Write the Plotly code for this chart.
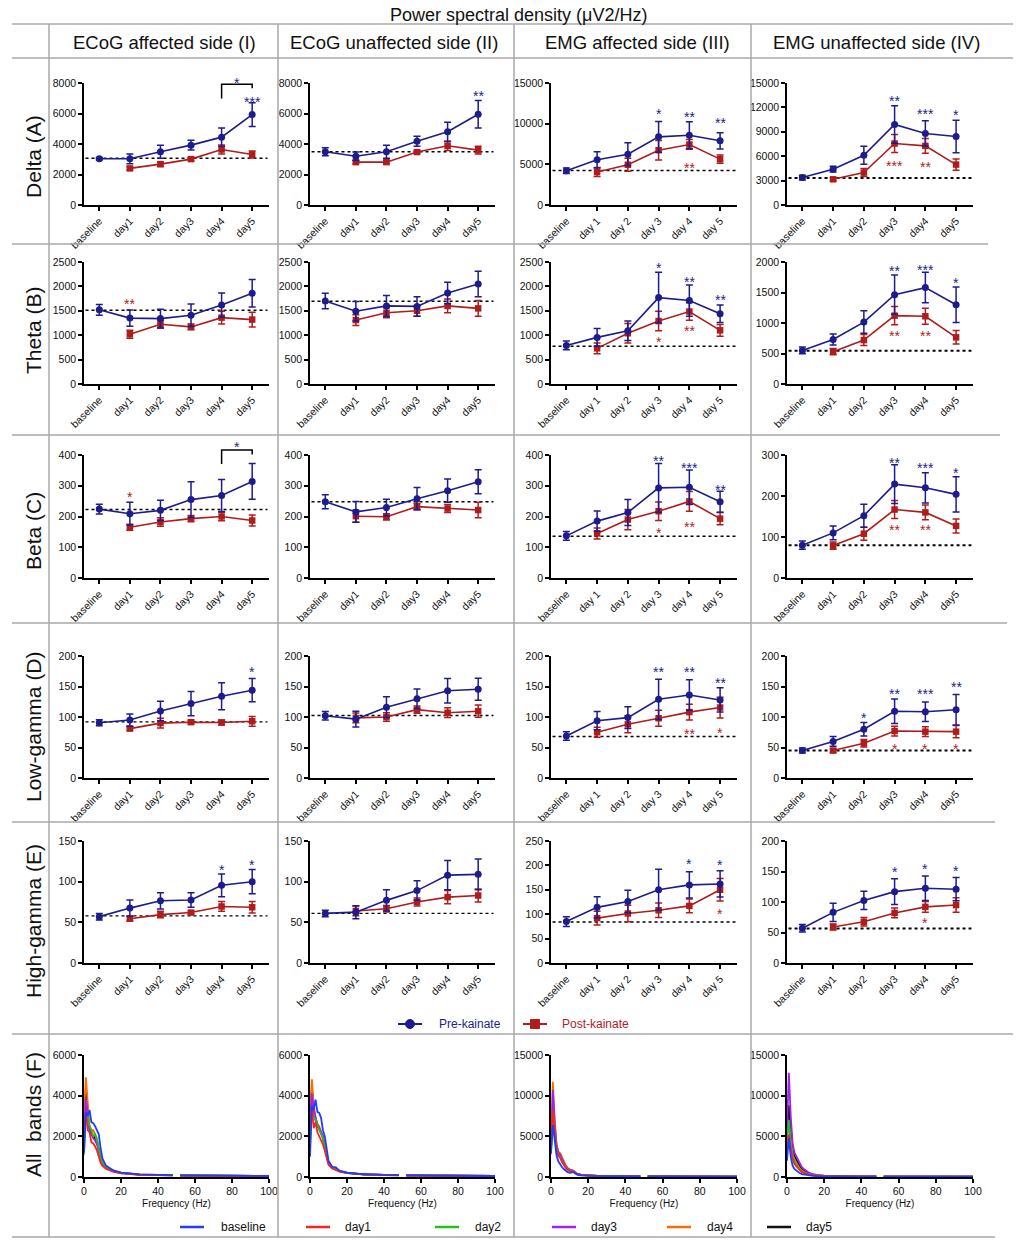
import plotly.graph_objects as go

# the page puts the figure 8 px in from the top-left corner of the window
OX, OY = 8, 8
W, H = 1021 - OX, 1241 - OY

TITLE = "Power spectral density (μV2/Hz)"
REGIONS = ["ECoG affected side (I)", "ECoG unaffected side (II)",
           "EMG affected side (III)", "EMG unaffected side (IV)"]
BANDS = ["Delta (A)", "Theta (B)", "Beta (C)", "Low-gamma (D)",
         "High-gamma (E)", "All\u00a0\u00a0bands (F)"]
DAYS = ["baseline", "day1", "day2", "day3", "day4", "day5"]
DAYS_SPACED = ["baseline", "day 1", "day 2", "day 3", "day 4", "day 5"]

# ---- band power, one list per region (I, II, III, IV) ----
# pre-kainate: baseline, day1..day5 ; post-kainate: day1..day5
delta_pre = [[3030, 3030, 3490, 3925, 4450, 5930],
             [3490, 3200, 3490, 4185, 4800, 5950],
             [4210, 5560, 6250, 8380, 8580, 7890],
             [3370, 4400, 6120, 9900, 8800, 8420]]
delta_pre_err = [[80, 320, 430, 320, 600, 780],
                 [260, 280, 430, 330, 630, 900],
                 [350, 1000, 1400, 1900, 1650, 1000],
                 [300, 350, 1100, 2300, 1550, 2000]]
delta_post = [[2400, 2680, 3010, 3640, 3310],
              [2810, 2810, 3470, 3880, 3600],
              [4050, 4950, 6740, 7440, 5640],
              [3160, 3990, 7560, 7270, 4970]]
delta_post_err = [[100, 150, 100, 300, 230],
                  [100, 100, 100, 300, 250],
                  [550, 800, 1200, 600, 500],
                  [200, 500, 1100, 900, 700]]
delta_ref = [3070, 3490, 4250, 3330]

theta_pre = [[1520, 1350, 1340, 1410, 1620, 1860],
             [1700, 1490, 1600, 1590, 1865, 2050],
             [790, 955, 1090, 1770, 1710, 1440],
             [550, 730, 1015, 1465, 1580, 1300]]
theta_pre_err = [[110, 165, 190, 230, 245, 280],
                 [160, 200, 215, 200, 220, 260],
                 [90, 180, 200, 520, 320, 180],
                 [55, 90, 185, 320, 250, 290]]
theta_post = [[1020, 1225, 1170, 1360, 1320],
              [1310, 1460, 1500, 1600, 1550],
              [730, 1040, 1290, 1485, 1100],
              [530, 720, 1120, 1110, 765]]
theta_post_err = [[80, 80, 60, 130, 150],
                  [110, 100, 110, 140, 160],
                  [110, 200, 200, 180, 120],
                  [50, 90, 150, 130, 110]]
theta_ref = [1510, 1695, 775, 545]

beta_pre = [[224, 209, 220, 255, 268, 314],
            [248, 215, 229, 258, 284, 313],
            [137, 185, 213, 293, 295, 248],
            [80, 110, 152, 229, 220, 204]]
beta_pre_err = [[16, 37, 33, 58, 52, 58],
                [23, 34, 27, 36, 38, 39],
                [14, 33, 42, 79, 56, 34],
                [10, 17, 28, 47, 37, 43]]
beta_post = [[165, 182, 193, 200, 187],
             [201, 199, 232, 226, 221],
             [145, 190, 217, 249, 193],
             [79, 108, 167, 160, 127]]
beta_post_err = [[10, 14, 10, 14, 18],
                 [20, 10, 10, 13, 25],
                 [18, 33, 30, 32, 20],
                 [9, 16, 22, 18, 17]]
beta_ref = [223, 248, 136, 80]

lowg_pre = [[90.5, 95, 110, 122, 134, 144],
            [102, 96.5, 116, 130, 143, 145.5],
            [69, 94, 99, 129, 136, 128],
            [45, 60, 80, 109.5, 108.5, 112]]
lowg_pre_err = [[5, 10, 16, 20, 22, 19],
                [7, 13, 17, 16, 20, 18],
                [7, 15, 18, 33, 25, 20],
                [4, 8, 11, 20, 16, 25]]
lowg_post = [[81, 90, 91.5, 91, 93],
             [98.5, 100, 112, 107, 109.5],
             [75, 88, 98, 108, 115.5],
             [45, 57, 77, 76, 76]]
lowg_post_err = [[3, 8, 3, 4, 8],
                 [8, 7, 6, 8, 10],
                 [8, 14, 13, 13, 17],
                 [3, 6, 8, 8, 10]]
lowg_ref = [92, 102.5, 68, 45]

highg_pre = [[57, 67.5, 76.5, 77.5, 95.5, 100],
             [61, 62.5, 77, 89, 108, 109],
             [85, 114, 126, 150, 160, 162],
             [57, 83, 102.5, 117, 122.5, 121]]
highg_pre_err = [[4, 10, 10, 9, 14, 15],
                 [4, 8, 13, 12, 18, 19],
                 [10, 22, 23, 42, 27, 27],
                 [6, 15, 15, 21, 20, 19]]
highg_post = [[54.5, 59.5, 62, 69.5, 68.5],
              [64, 66.7, 75, 81, 83],
              [92, 101.5, 108, 117, 150],
              [59, 67.5, 82, 92, 95]]
highg_post_err = [[3, 4, 2, 6, 7],
                  [6, 4, 5, 8, 8],
                  [14, 17, 15, 14, 23],
                  [5, 7, 8, 9, 12]]
highg_ref = [58, 61, 84, 56.7]

PRE = [delta_pre, theta_pre, beta_pre, lowg_pre, highg_pre]
PRE_ERR = [delta_pre_err, theta_pre_err, beta_pre_err, lowg_pre_err, highg_pre_err]
POST = [delta_post, theta_post, beta_post, lowg_post, highg_post]
POST_ERR = [delta_post_err, theta_post_err, beta_post_err, lowg_post_err, highg_post_err]
REF = [delta_ref, theta_ref, beta_ref, lowg_ref, highg_ref]

# y axis top / tick step per row and column
Y_MAX = [[8000, 8000, 15000, 15000], [2500, 2500, 2500, 2000], [400, 400, 400, 300],
         [200, 200, 200, 200], [150, 150, 250, 200], [6000, 6000, 15000, 15000]]
Y_STEP = [[2000, 2000, 5000, 3000], [500, 500, 500, 500], [100, 100, 100, 100],
          [50, 50, 50, 50], [50, 50, 50, 50], [2000, 2000, 5000, 5000]]

# significance stars: (row, col, x position, y value, text, series)
stars = [
    (0, 0, 5, 7040, "***", "pre"), (0, 0, 4.5, 8240, "*", "pre"),
    (0, 1, 5, 7400, "**", "pre"),
    (0, 2, 3, 11730, "*", "pre"), (0, 2, 4, 11360, "**", "pre"), (0, 2, 5, 10540, "**", "pre"),
    (0, 2, 4, 5100, "**", "post"),
    (0, 3, 3, 13280, "**", "pre"), (0, 3, 4, 11720, "***", "pre"), (0, 3, 5, 11600, "*", "pre"),
    (0, 3, 3, 5260, "***", "post"), (0, 3, 4, 5220, "**", "post"),
    (1, 0, 1, 1715, "**", "post"),
    (1, 2, 3, 2465, "*", "pre"), (1, 2, 4, 2170, "**", "pre"), (1, 2, 5, 1805, "**", "pre"),
    (1, 2, 3, 945, "*", "post"), (1, 2, 4, 1160, "**", "post"),
    (1, 3, 3, 1920, "**", "pre"), (1, 3, 4, 1930, "***", "pre"), (1, 3, 5, 1720, "*", "pre"),
    (1, 3, 3, 845, "**", "post"), (1, 3, 4, 845, "**", "post"),
    (2, 0, 1, 275, "*", "post"), (2, 0, 4.5, 438, "*", "pre"),
    (2, 2, 3, 395, "**", "pre"), (2, 2, 4, 371, "***", "pre"), (2, 2, 5, 300, "**", "pre"),
    (2, 2, 3, 159, "*", "post"), (2, 2, 4, 180, "**", "post"),
    (2, 3, 3, 290, "**", "pre"), (2, 3, 4, 277, "***", "pre"), (2, 3, 5, 265, "*", "pre"),
    (2, 3, 3, 127, "**", "post"), (2, 3, 4, 127, "**", "post"),
    (3, 0, 5, 180, "*", "pre"),
    (3, 2, 3, 181, "**", "pre"), (3, 2, 4, 180, "**", "pre"), (3, 2, 5, 163, "**", "pre"),
    (3, 2, 4, 79, "**", "post"), (3, 2, 5, 81, "*", "post"),
    (3, 3, 2, 105, "*", "pre"), (3, 3, 3, 144, "**", "pre"), (3, 3, 4, 144, "***", "pre"),
    (3, 3, 5, 155, "**", "pre"),
    (3, 3, 3, 54, "*", "post"), (3, 3, 4, 54, "*", "post"), (3, 3, 5, 54, "*", "post"),
    (4, 0, 4, 119, "*", "pre"), (4, 0, 5, 126, "*", "pre"),
    (4, 2, 4, 211, "*", "pre"), (4, 2, 5, 208, "*", "pre"), (4, 2, 5, 109, "*", "post"),
    (4, 3, 3, 155, "*", "pre"), (4, 3, 4, 161, "*", "pre"), (4, 3, 5, 158, "*", "pre"),
    (4, 3, 4, 72, "*", "post"),
]
# brackets day4-day5: (row, col, x_left, x_right, y_top, y_left_end, y_right_end)
brackets = [(0, 0, 4, 5, 7910, 6980, 7650), (2, 0, 4, 5, 416, 371, 402)]

# ---- spectra (row F) ----
spec_freq = [0, 1, 2, 3, 4, 5, 6, 7, 8, 9, 10, 12, 14, 16, 20, 25, 30, 40, 48, 50, 52, 60, 80, 100]
SPEC_NAMES = ["baseline", "day1", "day2", "day3", "day4", "day5"]
spec_I = [
    [1200, 3200, 3000, 3300, 2700, 2650, 2500, 2300, 2100, 1400, 900, 550, 450, 320, 220, 160, 130, 100, 90, None, 80, 70, 60, 50],
    [2400, 3200, 2300, 2200, 1700, 1650, 1500, 1300, 1000, 700, 550, 400, 320, 250, 180, 140, 110, 90, 80, None, 70, 60, 50, 45],
    [1100, 3000, 3000, 2500, 2300, 2000, 2100, 1900, 1400, 900, 700, 450, 350, 280, 200, 150, 120, 95, 85, None, 75, 65, 55, 50],
    [2000, 3900, 3000, 2200, 2100, 1900, 1800, 1600, 1300, 850, 650, 450, 360, 280, 200, 150, 120, 95, 85, None, 75, 65, 55, 50],
    [3000, 4900, 3700, 2500, 2300, 2300, 2100, 1800, 1400, 950, 700, 480, 380, 300, 210, 160, 125, 100, 90, None, 80, 70, 60, 55],
    [2800, 4300, 3100, 2400, 2100, 2000, 1900, 1700, 1300, 900, 680, 470, 370, 290, 205, 155, 120, 98, 88, None, 78, 68, 58, 52],
]
spec_II = [
    [1000, 3500, 3300, 3800, 3200, 3150, 2900, 2300, 2000, 1300, 800, 500, 480, 300, 220, 160, 130, 100, 90, None, 80, 70, 60, 50],
    [2500, 3500, 2400, 2700, 2200, 2000, 1800, 1600, 1300, 900, 600, 420, 330, 260, 190, 145, 115, 95, 85, None, 75, 65, 55, 50],
    [1500, 3200, 3000, 2800, 2600, 2300, 2100, 1900, 1500, 1000, 700, 460, 360, 280, 200, 150, 120, 97, 87, None, 77, 67, 57, 52],
    [2500, 4100, 3300, 2900, 2600, 2400, 2200, 2000, 1500, 1000, 700, 470, 370, 290, 205, 155, 122, 98, 88, None, 78, 68, 58, 52],
    [3200, 4800, 3600, 2900, 2600, 2500, 2200, 1900, 1500, 1000, 700, 480, 380, 300, 210, 160, 125, 100, 90, None, 80, 70, 60, 55],
    [3000, 4300, 3400, 2800, 2500, 2400, 2200, 1950, 1500, 1000, 700, 470, 375, 295, 205, 155, 122, 98, 88, None, 78, 68, 58, 52],
]
spec_III = [
    [3000, 6400, 4600, 2600, 1900, 1500, 1200, 950, 750, 600, 500, 600, 300, 200, 150, 120, 100, 80, 70, None, 60, 55, 50, 45],
    [5000, 8200, 5500, 3200, 2600, 2300, 1800, 1400, 1100, 900, 750, 650, 350, 250, 180, 140, 110, 90, 80, None, 70, 60, 55, 50],
    [3300, 8100, 5600, 3400, 2700, 2400, 1900, 1500, 1200, 950, 800, 700, 350, 250, 180, 140, 110, 90, 80, None, 70, 60, 55, 50],
    [2800, 10700, 6500, 3800, 3000, 2700, 2200, 1700, 1300, 1050, 900, 750, 400, 280, 200, 150, 120, 95, 85, None, 75, 65, 60, 55],
    [4000, 11700, 7000, 4000, 3100, 2900, 2400, 1800, 1400, 1100, 950, 800, 400, 280, 200, 150, 120, 95, 85, None, 75, 65, 60, 55],
    [3500, 9000, 6000, 3600, 2800, 2500, 2000, 1600, 1200, 1000, 850, 700, 380, 260, 190, 145, 115, 92, 82, None, 72, 62, 57, 52],
]
spec_IV = [
    [2000, 4800, 2500, 1400, 1000, 800, 600, 450, 350, 300, 250, 180, 140, 110, 90, 75, 65, 55, 50, None, 45, 40, 38, 35],
    [3500, 5200, 3500, 2200, 1600, 1300, 1000, 800, 600, 500, 400, 280, 200, 150, 110, 90, 75, 60, 55, None, 50, 45, 40, 38],
    [4500, 7000, 4200, 2600, 1900, 1500, 1200, 900, 700, 550, 450, 300, 220, 160, 120, 95, 80, 65, 58, None, 52, 47, 42, 40],
    [6000, 12800, 7500, 4200, 3000, 2500, 2000, 1600, 1200, 1000, 800, 500, 350, 250, 170, 130, 100, 80, 70, None, 62, 55, 50, 45],
    [5000, 6500, 4500, 2800, 2100, 1700, 1300, 1000, 800, 650, 520, 350, 250, 180, 130, 100, 85, 70, 60, None, 55, 50, 45, 42],
    [5500, 8800, 5800, 3500, 2600, 2100, 1700, 1300, 1000, 800, 650, 420, 300, 210, 150, 115, 90, 75, 65, None, 58, 52, 47, 44],
]
SPECTRA = [spec_I, spec_II, spec_III, spec_IV]

# ---- styling ----
FONT = "Liberation Sans, Arial, sans-serif"
BLUE = "#1c1c8c"
RED = "#b01c1c"
SPEC_COLORS = ["#1f3cff", "#ff2020", "#22c022", "#a020f0", "#ff6a00", "#111111"]
GRID = "#a8a8a8"

# plot area, in window pixels
COL_X = [(84, 269), (310, 495), (551, 737), (787, 973)]
ROW_Y = [(83, 205), (262, 384), (455, 578), (656, 778), (841, 963), (1055, 1177)]
XR = [-0.5, 5.55]


def px(x):
    return (x - OX) / W


def py(y):
    return 1 - (y - OY) / H


def aid(r, c):
    n = r * 4 + c + 1
    return "" if n == 1 else str(n)


def data_to_paper(r, c, x, y):
    x0, x1 = COL_X[c]
    y0, y1 = ROW_Y[r]
    xp = x0 + (x - XR[0]) / (XR[1] - XR[0]) * (x1 - x0)
    yp = y1 - y / Y_MAX[r][c] * (y1 - y0)
    return px(xp), py(yp)


def text(x, y, s, size, color="#111", xanchor="center", angle=0):
    return dict(x=px(x), y=py(y), xref="paper", yref="paper", text=s, showarrow=False,
                xanchor=xanchor, yanchor="middle", textangle=angle,
                font=dict(family=FONT, size=size, color=color))


fig = go.Figure()
layout = {}
annotations = []
shapes = []

for r in range(6):
    for c in range(4):
        n = aid(r, c)
        xa, ya = "x" + n, "y" + n
        x0, x1 = COL_X[c]
        y0, y1 = ROW_Y[r]
        common = dict(showline=True, linecolor="black", linewidth=1.6, ticks="outside",
                      ticklen=4, tickwidth=1.5, tickcolor="black", showgrid=False,
                      zeroline=False, automargin=False,
                      tickfont=dict(family=FONT, size=10.5, color="#111"))
        yax = dict(domain=[py(y1), py(y0)], anchor=xa, range=[0, Y_MAX[r][c]],
                   tickvals=list(range(0, Y_MAX[r][c] + 1, Y_STEP[r][c])),
                   tickformat="d", **common)
        if r < 5:
            labels = DAYS_SPACED if c == 2 else DAYS
            xax = dict(domain=[px(x0), px(x1)], anchor=ya, range=XR,
                       tickvals=list(range(6)), ticktext=labels, tickangle=-45, **common)
            # baseline reference
            fig.add_trace(go.Scatter(x=[XR[0] + 0.05, 5.5], y=[REF[r][c]] * 2, mode="lines",
                                     line=dict(color="black", dash="dot",
                                               width=2 if c == 3 else 1.4),
                                     xaxis=xa, yaxis=ya, showlegend=False, hoverinfo="skip"))
            fig.add_trace(go.Scatter(x=list(range(1, 6)), y=POST[r][c], mode="lines+markers",
                                     line=dict(color=RED, width=1.6),
                                     marker=dict(symbol="square", size=6.5, color=RED),
                                     error_y=dict(type="data", array=POST_ERR[r][c], color=RED,
                                                  thickness=1.5, width=3.5),
                                     xaxis=xa, yaxis=ya, showlegend=False))
            fig.add_trace(go.Scatter(x=list(range(6)), y=PRE[r][c], mode="lines+markers",
                                     line=dict(color=BLUE, width=1.6),
                                     marker=dict(symbol="circle", size=7, color=BLUE),
                                     error_y=dict(type="data", array=PRE_ERR[r][c], color=BLUE,
                                                  thickness=1.5, width=3.5),
                                     xaxis=xa, yaxis=ya, showlegend=False))
        else:
            xax = dict(domain=[px(x0), px(x1)], anchor=ya, range=[0, 100],
                       tickvals=list(range(0, 101, 20)),
                       title=dict(text="Frequency (Hz)", standoff=4,
                                  font=dict(family=FONT, size=10, color="#111")),
                       **common)
            for k in range(5, -1, -1):
                fig.add_trace(go.Scatter(x=spec_freq, y=SPECTRA[c][k], mode="lines",
                                         line=dict(color=SPEC_COLORS[k], width=1.8),
                                         connectgaps=False, xaxis=xa, yaxis=ya,
                                         showlegend=False, hoverinfo="skip"))
        layout["xaxis" + n] = xax
        layout["yaxis" + n] = yax

# significance stars (placed in paper space so the ones above the axis top stay visible)
for r, c, x, y, txt, s in stars:
    sx, sy = data_to_paper(r, c, x, y)
    annotations.append(dict(x=sx, y=sy, xref="paper", yref="paper", text=txt, showarrow=False,
                            xanchor="center", yanchor="middle", yshift=-4,
                            font=dict(family=FONT, size=14, color=BLUE if s == "pre" else RED)))

# day4-day5 comparison brackets
for r, c, xl, xr, yt, yl, yr in brackets:
    ax, ayl = data_to_paper(r, c, xl, yl)
    _, ayt = data_to_paper(r, c, xl, yt)
    bx, ayr = data_to_paper(r, c, xr, yr)
    shapes.append(dict(type="path", xref="paper", yref="paper",
                       path=f"M{ax},{ayl} L{ax},{ayt} L{bx},{ayt} L{bx},{ayr}",
                       line=dict(color="black", width=1.5)))

# table grid
for y, xe in [(24, 1021), (58, 1021), (244, 988), (435, 1000), (623, 1007),
              (822, 995), (1034, 1021), (1237, 995)]:
    shapes.append(dict(type="line", xref="paper", yref="paper", x0=px(12), x1=px(xe),
                       y0=py(y), y1=py(y), line=dict(color=GRID, width=1.5)))
for x in [49, 278, 514, 751]:
    shapes.append(dict(type="line", xref="paper", yref="paper", x0=px(x), x1=px(x),
                       y0=py(24), y1=py(1237), line=dict(color=GRID, width=1.5)))

# headers
annotations.append(text(519, 14.5, TITLE, 18))
for xc, name in zip([164, 394, 637, 876], REGIONS):
    annotations.append(text(xc, 42, name, 18.5))
for yc, name in zip([157, 330, 531, 727, 921, 1115], BANDS):
    annotations.append(text(33, yc, name, 21, angle=-90))

# legend for the band panels
for (l0, l1, tx, txt, col, sym) in [(398, 422, 437, "Pre-kainate", BLUE, "circle"),
                                     (523, 547, 560, "Post-kainate", RED, "square")]:
    yl = 1024
    shapes.append(dict(type="line", xref="paper", yref="paper", x0=px(l0), x1=px(l1),
                       y0=py(yl), y1=py(yl), line=dict(color=col, width=2)))
    m = (l0 + l1) / 2
    shapes.append(dict(type="circle" if sym == "circle" else "rect", xref="paper", yref="paper",
                       x0=px(m - 4.5), x1=px(m + 4.5), y0=py(yl + 4.5), y1=py(yl - 4.5),
                       fillcolor=col, line=dict(color=col, width=1)))
    annotations.append(text(tx, yl, txt, 12, color=col, xanchor="left"))

# legend for the spectra
for k, (l0, tx) in enumerate([(180, 219), (306, 343), (435, 473), (552, 589), (667, 705), (767, 804)]):
    yl = 1227
    shapes.append(dict(type="line", xref="paper", yref="paper", x0=px(l0), x1=px(l0 + 24),
                       y0=py(yl), y1=py(yl), line=dict(color=SPEC_COLORS[k], width=2.5)))
    annotations.append(text(tx, yl, SPEC_NAMES[k], 12, xanchor="left"))

fig.update_layout(width=W, height=H, margin=dict(l=0, r=0, t=0, b=0, autoexpand=False),
                  paper_bgcolor="white", plot_bgcolor="white", showlegend=False,
                  font=dict(family=FONT), annotations=annotations, shapes=shapes, **layout)
fig.write_html("out.html")
